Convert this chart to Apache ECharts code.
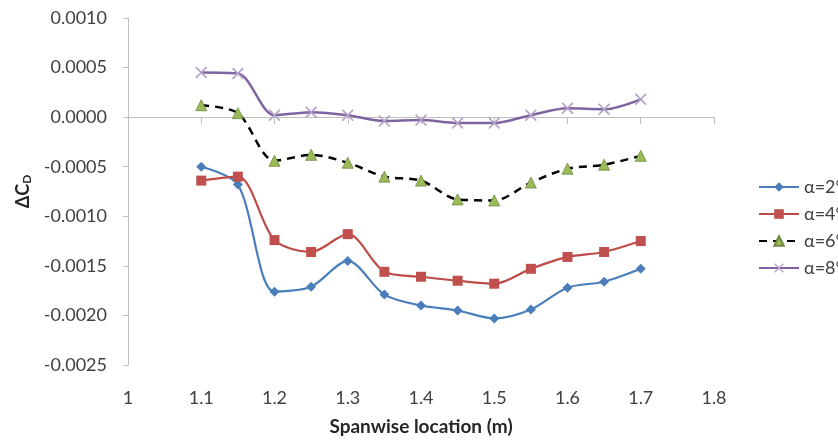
<!DOCTYPE html>
<html><head><meta charset="utf-8">
<script src="https://cdn.jsdelivr.net/npm/echarts@6/dist/echarts.min.js"></script>
<style>html,body{margin:0;padding:0;background:#fff}#c{width:838px;height:448px}</style>
</head><body><div id="c"></div>
<script>
var xValues = [1.1, 1.15, 1.2, 1.25, 1.3, 1.35, 1.4, 1.45, 1.5, 1.55, 1.6, 1.65, 1.7];
var alpha2 = [-0.00050, -0.00068, -0.00176, -0.00171, -0.00145, -0.00179, -0.00190, -0.00195, -0.00203, -0.00194, -0.00172, -0.00166, -0.00153];
var alpha4 = [-0.00064, -0.00060, -0.00124, -0.00136, -0.00118, -0.00156, -0.00161, -0.00165, -0.00168, -0.00153, -0.00141, -0.00136, -0.00125];
var alpha6 = [0.00012, 0.00004, -0.00044, -0.00038, -0.00046, -0.00060, -0.00064, -0.00083, -0.00084, -0.00066, -0.00052, -0.00048, -0.00039];
var alpha8 = [0.00045, 0.00044, 0.00002, 0.00005, 0.00002, -0.00004, -0.00003, -0.00006, -0.00006, 0.00002, 0.00009, 0.00008, 0.00018];
var seriesNames = ['α=2°', 'α=4°', 'α=6°', 'α=8°'];
var xTicks = [1, 1.1, 1.2, 1.3, 1.4, 1.5, 1.6, 1.7, 1.8];

function pairs(ys){ return xValues.map(function(x,i){ return [x, ys[i]]; }); }
var FONT = 'Lato, "Open Sans", sans-serif';
var crossPath = 'path://M0,1 L1,0 L5,4 L9,0 L10,1 L6,5 L10,9 L9,10 L5,6 L1,10 L0,9 L4,5 Z';

var chart = echarts.init(document.getElementById('c'));
chart.setOption({
  animation: false,
  backgroundColor: '#fff',
  grid: {left: 128, right: 124, top: 18, bottom: 83},
  legend: {
    orient: 'vertical', left: 753, top: 173, itemGap: 9, itemWidth: 40, itemHeight: 12,
    textStyle: {fontFamily: FONT, fontSize: 18, color: '#404040'},
    data: seriesNames
  },
  xAxis: [{
    type: 'value', min: 1, max: 1.8, interval: 0.1,
    axisLine: {onZero: true, lineStyle: {color: '#bfbfbf', width: 1}},
    axisTick: {show: true, inside: false, length: 7, lineStyle: {color: '#bfbfbf'}},
    axisLabel: {show: false}, splitLine: {show: false}
  }, {
    type: 'value', min: 1, max: 1.8, interval: 0.1, position: 'bottom',
    axisLine: {show: false, onZero: false}, axisTick: {show: false}, splitLine: {show: false},
    axisLabel: {margin: 24, fontFamily: FONT, fontSize: 18, color: '#404040',
      formatter: function(v){ var t = xTicks.filter(function(k){return Math.abs(k-v)<1e-9;}); return t.length ? String(t[0]) : String(Math.round(v*10)/10); }},
    name: 'Spanwise location (m)', nameLocation: 'middle', nameGap: 52,
    nameTextStyle: {fontFamily: FONT, fontSize: 19, fontWeight: 'bold', color: '#262626'}
  }],
  yAxis: {
    type: 'value', min: -0.0025, max: 0.001, interval: 0.0005,
    axisLine: {show: true, lineStyle: {color: '#bfbfbf'}},
    axisTick: {show: true, length: 5, lineStyle: {color: '#bfbfbf'}},
    splitLine: {show: false},
    axisLabel: {margin: 21, fontFamily: FONT, fontSize: 18, color: '#404040',
      formatter: function(v){ return (Math.abs(v) < 1e-12 ? 0 : v).toFixed(4); }},
    name: 'ΔC{sub|D}', nameLocation: 'middle', nameRotate: 90, nameGap: 95,
    nameTextStyle: {fontFamily: FONT, fontSize: 18, fontWeight: 'bold', color: '#262626',
      rich: {sub: {fontFamily: FONT, fontSize: 12, fontWeight: 'bold', color: '#262626', verticalAlign: 'bottom', padding: [8,0,0,0]}}}
  },
  series: [{
    name: seriesNames[0], type: 'line', xAxisIndex: 0, smooth: 0.3, data: pairs(alpha2),
    symbol: 'diamond', symbolSize: 10,
    lineStyle: {color: '#4a7ebb', width: 2.2}, itemStyle: {color: '#4a7ebb'}
  }, {
    name: seriesNames[1], type: 'line', xAxisIndex: 0, smooth: 0.3, data: pairs(alpha4),
    symbol: 'rect', symbolSize: 10,
    lineStyle: {color: '#be4b48', width: 2.2}, itemStyle: {color: '#c0504d'}
  }, {
    name: seriesNames[2], type: 'line', xAxisIndex: 0, smooth: 0.3, data: pairs(alpha6),
    symbol: 'triangle', symbolSize: 11,
    lineStyle: {color: '#000', width: 2.5, type: [8, 6]},
    itemStyle: {color: '#9bbb59', borderColor: '#71893f', borderWidth: 0.8}
  }, {
    name: seriesNames[3], type: 'line', xAxisIndex: 0, smooth: 0.3, data: pairs(alpha8),
    symbol: crossPath, symbolSize: 12,
    lineStyle: {color: '#8064a2', width: 2.5}, itemStyle: {color: '#b3a2c7'}
  }]
});
</script></body></html>
